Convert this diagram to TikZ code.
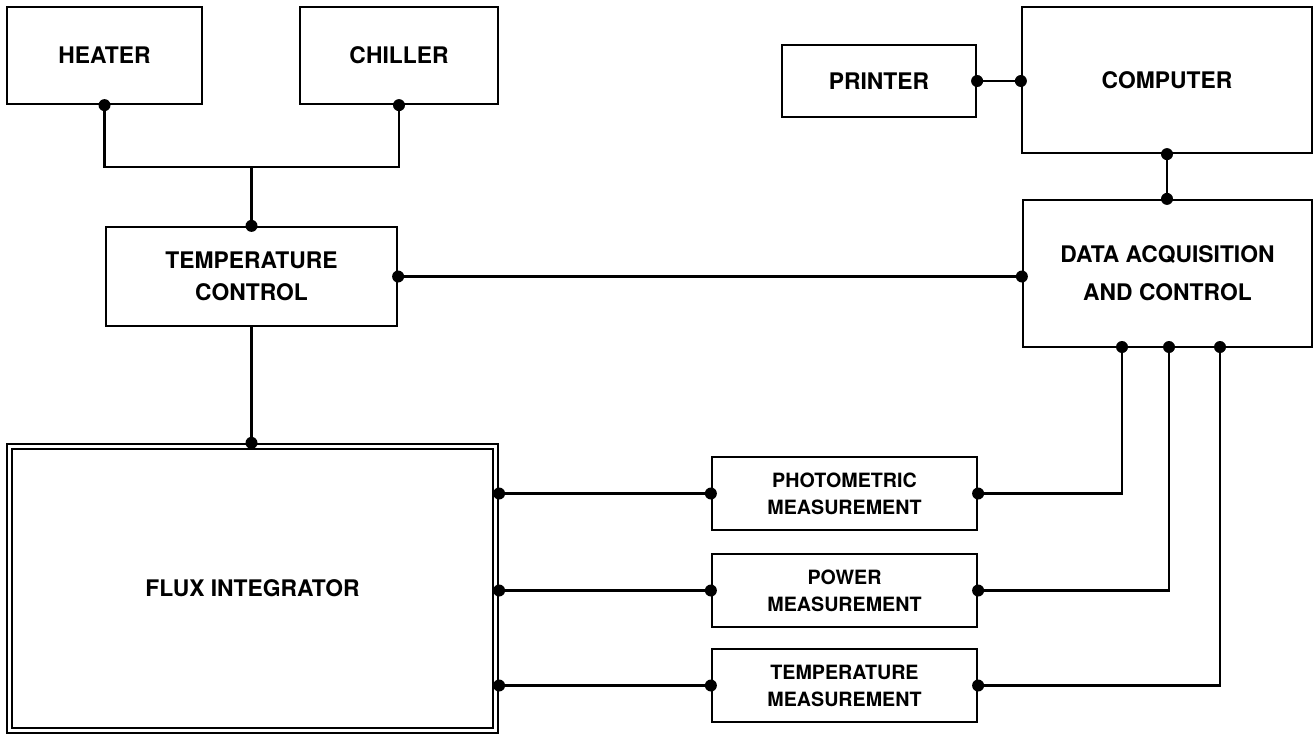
\documentclass[tikz,border=0pt]{standalone}
\usepackage{fontspec}
\setmainfont{TeX Gyre Heros}
\usetikzlibrary{calc}

\begin{document}
\begin{tikzpicture}[x=0.02cm,y=-0.02cm,line width=1.3pt,
  blk/.style={draw,align=center,inner sep=0pt,font=\bfseries\fontsize{13}{16}\selectfont},
  meas/.style={blk,minimum width=5.3cm,minimum height=1.46cm,font=\bfseries\fontsize{11.2}{15.3}\selectfont}]
\useasboundingbox (0,0) rectangle (1313,734);

%Left half
\node[blk,minimum width=3.9cm,minimum height=1.94cm] (heater) at (104.5,55.5) {HEATER};
\node[blk,minimum width=3.96cm,minimum height=1.94cm] (chiller) at (399,55.5) {CHILLER};
\node[blk,minimum width=5.82cm,minimum height=1.98cm] (tc) at (251.5,276.5) {TEMPERATURE\\[2pt]CONTROL};
\node[blk,minimum width=9.82cm,minimum height=5.78cm] (flux) at (252.5,588.5) {FLUX INTEGRATOR};
\draw[line width=0.8pt] ($(flux.north west)+(6,6)$) rectangle ($(flux.south east)+(-6,-6)$);

%Right half
\node[blk,minimum width=3.88cm,minimum height=1.44cm] (printer) at (879,81) {PRINTER};
\node[blk,minimum width=5.8cm,minimum height=2.92cm] (computer) at (1167,80) {COMPUTER};
\node[blk,minimum width=5.78cm,minimum height=2.94cm] (daq) at (1167.5,273.5) {DATA ACQUISITION\\[5.5pt]AND CONTROL};
\node[meas] (pm) at (844.5,493.5) {PHOTOMETRIC\\MEASUREMENT};
\node[meas] (pw) at (844.5,590.5) {POWER\\MEASUREMENT};
\node[meas] (tm) at (844.5,685.5) {TEMPERATURE\\MEASUREMENT};
\coordinate (jn) at (tc.north |- 0,167);
\coordinate (q1) at (1122,347); \coordinate (q2) at (1169,347); \coordinate (q3) at (1220,347);

%Lines
\draw (heater.south) |- (jn) -| (chiller.south); \draw (jn) -- (tc.north);
\draw (tc.south) -- (tc.south |- flux.north); \draw (tc.east) -- (tc.east -| daq.west);
\draw (printer.east) -- (printer.east -| computer.west); \draw (computer.south) -- (computer.south |- daq.north);
\draw (q1) |- (pm.east); \draw (q2) |- (pw.east); \draw (q3) |- (tm.east);
\draw (pm.west -| flux.east) -- (pm.west); \draw (pw.west -| flux.east) -- (pw.west); \draw (tm.west -| flux.east) -- (tm.west);

%Dots
\fill (heater.south) circle [radius=6]; \fill (chiller.south) circle [radius=6]; \fill (tc.north) circle [radius=6]; \fill (tc.east) circle [radius=6]; \fill (tc.south |- flux.north) circle [radius=6];
\fill (tc.east -| daq.west) circle [radius=6]; \fill (printer.east) circle [radius=6]; \fill (printer.east -| computer.west) circle [radius=6]; \fill (computer.south) circle [radius=6]; \fill (computer.south |- daq.north) circle [radius=6];
\fill (q1) circle [radius=6]; \fill (q2) circle [radius=6]; \fill (q3) circle [radius=6];
\fill (pm.east) circle [radius=6]; \fill (pw.east) circle [radius=6]; \fill (tm.east) circle [radius=6];
\fill (pm.west) circle [radius=6]; \fill (pw.west) circle [radius=6]; \fill (tm.west) circle [radius=6];
\fill (pm.west -| flux.east) circle [radius=6]; \fill (pw.west -| flux.east) circle [radius=6]; \fill (tm.west -| flux.east) circle [radius=6];

\end{tikzpicture}
\end{document}
